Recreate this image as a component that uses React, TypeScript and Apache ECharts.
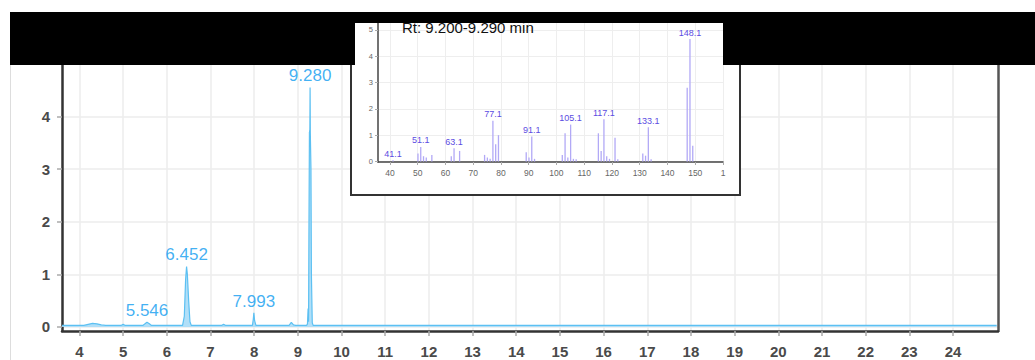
import React, { useEffect, useRef } from "react";
import * as echarts from "echarts";

// Main chromatogram (retention time, min) and intensity
const rtTimes = [
  3.6, 4.1, 4.2, 4.3, 4.4, 4.5, 4.6, 4.95, 5.0, 5.05, 5.45, 5.5, 5.546, 5.6, 5.65,
  6.36, 6.4, 6.43, 6.452, 6.47, 6.5, 6.53, 6.56, 7.25, 7.3, 7.35, 7.96, 7.98, 7.993,
  8.01, 8.04, 8.8, 8.85, 8.9, 8.95, 9.2, 9.22, 9.235, 9.245, 9.255, 9.265, 9.275, 9.28,
  9.285, 9.3, 9.31, 9.33, 9.35, 25.0,
];
const rtIntensity = [
  0.03, 0.03, 0.05, 0.07, 0.06, 0.04, 0.03, 0.03, 0.05, 0.03, 0.03, 0.06, 0.09, 0.06, 0.03,
  0.03, 0.2, 0.9, 1.15, 1.0, 0.5, 0.1, 0.03, 0.03, 0.05, 0.03, 0.03, 0.15, 0.27,
  0.12, 0.03, 0.03, 0.09, 0.04, 0.03, 0.03, 0.06, 0.35, 0.1, 2.0, 3.7, 3.75, 4.55,
  3.7, 3.0, 1.0, 0.08, 0.03, 0.03,
];
const peakTimes = [5.546, 6.452, 7.993, 9.28];
const peakHeights = [0.09, 1.15, 0.27, 4.55];
const mainXTicks = [4, 5, 6, 7, 8, 9, 10, 11, 12, 13, 14, 15, 16, 17, 18, 19, 20, 21, 22, 23, 24];
const mainYTicks = [0, 1, 2, 3, 4];

// Inset mass spectrum
const msMz = [
  41.1, 50.1, 51.1, 52.1, 53.1, 55.1, 62.1, 63.1, 65.1, 74.1, 75.1, 76.1, 77.1, 78.1, 79.1,
  89.1, 90.1, 91.1, 92.1, 102.1, 103.1, 104.1, 105.1, 106.1, 107.1, 115.1, 116.1, 117.1,
  118.1, 119.1, 121.1, 122.1, 131.1, 132.1, 133.1, 134.1, 147.1, 148.1, 149.1,
];
const msIntensity = [
  0.05, 0.3, 0.55, 0.2, 0.15, 0.25, 0.2, 0.5, 0.4, 0.25, 0.15, 0.1, 1.55, 0.65, 1.0,
  0.35, 0.15, 0.95, 0.1, 0.25, 1.07, 0.15, 1.4, 0.1, 0.08, 1.07, 0.4, 1.6,
  0.2, 0.1, 0.9, 0.08, 0.3, 0.22, 1.3, 0.08, 2.8, 4.65, 0.6,
];
const msLabeledMz = [41.1, 51.1, 63.1, 77.1, 91.1, 105.1, 117.1, 133.1, 148.1];
const msXTicks = [40, 50, 60, 70, 80, 90, 100, 110, 120, 130, 140, 150, 160];
const msXTickLabels = ["40", "50", "60", "70", "80", "90", "100", "110", "120", "130", "140", "150", "1"];
const msYTicks = [0, 1, 2, 3, 4, 5];
const insetTitle = "Rt: 9.200-9.290 min";

const FONT = "Liberation Sans, Arial, sans-serif";

export default function App() {
  const ref = useRef<HTMLDivElement>(null);
  useEffect(() => {
    if (!ref.current) return;
    const chart = echarts.init(ref.current, undefined, { renderer: "svg" });
    const trace = rtTimes.map((t, i) => [t, rtIntensity[i]]);
    const peaks = peakTimes.map((t, i) => [t, peakHeights[i]]);
    const spectrum = msMz.map((m, i) => ({
      value: [m, msIntensity[i]],
      label: { show: msLabeledMz.includes(m) },
    }));
    chart.setOption({
      animation: false,
      backgroundColor: "#fff",
      grid: [
        { left: 62, right: 37, top: 48, bottom: 29 },
        { left: 378, right: 312, top: 14, bottom: 198 },
      ],
      xAxis: [
        {
          gridIndex: 0,
          type: "value",
          min: 3.6,
          max: 25.03,
          axisLine: { onZero: false, lineStyle: { color: "#333", width: 2.5 } },
          axisTick: { customValues: mainXTicks, length: 5, lineStyle: { color: "#aaa", width: 1.5 } },
          axisLabel: {
            customValues: mainXTicks,
            fontSize: 15,
            color: "#4a4a4a",
            fontFamily: FONT,
            fontWeight: "bold",
            margin: 13,
          },
          splitLine: { show: true, lineStyle: { color: "#ececec", width: 1.5 } },
        },
        {
          gridIndex: 1,
          type: "value",
          min: 35.7,
          max: 160,
          z: 10,
          axisLine: { onZero: false, lineStyle: { color: "#444", width: 1.5 } },
          axisTick: { customValues: msXTicks, length: 3, lineStyle: { color: "#aaa" } },
          axisLabel: {
            customValues: msXTicks,
            fontSize: 8.5,
            color: "#666",
            fontFamily: FONT,
            margin: 6,
            formatter: (v: number) => msXTickLabels[msXTicks.indexOf(v)] ?? String(v),
          },
          splitLine: { show: true, lineStyle: { color: "#eeeeee", width: 1 } },
        },
      ],
      yAxis: [
        {
          gridIndex: 0,
          type: "value",
          min: -0.076,
          max: 5.3,
          axisLine: { show: true, onZero: false, lineStyle: { color: "#333", width: 2.5 } },
          axisTick: { show: true, customValues: mainYTicks, length: 5, lineStyle: { color: "#aaa", width: 1.5 } },
          axisLabel: {
            customValues: mainYTicks,
            fontSize: 15,
            color: "#4a4a4a",
            fontFamily: FONT,
            fontWeight: "bold",
            margin: 12,
          },
          splitLine: { show: true, lineStyle: { color: "#ececec", width: 1.5 } },
        },
        {
          gridIndex: 0,
          type: "value",
          position: "right",
          min: -0.076,
          max: 5.3,
          axisLine: { show: true, onZero: false, lineStyle: { color: "#555", width: 2.5 } },
          axisTick: { show: false },
          axisLabel: { show: false },
          splitLine: { show: false },
        },
        {
          gridIndex: 1,
          type: "value",
          min: -0.02,
          max: 5.6,
          z: 10,
          axisLine: { show: true, onZero: false, lineStyle: { color: "#444", width: 1.5 } },
          axisTick: { show: true, customValues: msYTicks, length: 3, lineStyle: { color: "#aaa" } },
          axisLabel: {
            customValues: msYTicks,
            fontSize: 7.5,
            color: "#666",
            fontFamily: FONT,
            margin: 5,
          },
          splitLine: { show: true, lineStyle: { color: "#eeeeee", width: 1 } },
        },
      ],
      series: [
        {
          type: "line",
          xAxisIndex: 0,
          yAxisIndex: 0,
          data: trace,
          showSymbol: false,
          lineStyle: { color: "#5cc0f2", width: 1.2 },
          areaStyle: { color: "#a9dcf7", opacity: 0.9 },
          z: 2,
        },
        {
          type: "scatter",
          xAxisIndex: 0,
          yAxisIndex: 0,
          data: peaks,
          symbolSize: 0,
          z: 3,
          label: {
            show: true,
            position: "top",
            distance: 3,
            fontSize: 17,
            color: "#0f9cf0",
            fontFamily: FONT,
            formatter: (p: any) => Number(p.value[0]).toFixed(3),
          },
        },
        {
          type: "bar",
          xAxisIndex: 1,
          yAxisIndex: 2,
          data: spectrum,
          barWidth: 1.3,
          itemStyle: { color: "#b2a9f6" },
          z: 12,
          label: {
            show: false,
            position: "top",
            distance: 2,
            fontSize: 9,
            color: "#5b4be2",
            fontFamily: FONT,
            formatter: (p: any) => Number(p.value[0]).toFixed(1),
          },
        },
      ],
      graphic: {
        elements: [
          {
            type: "line",
            shape: { x1: 10.5, y1: 65, x2: 10.5, y2: 360 },
            style: { stroke: "#dddddd", lineWidth: 1 },
            z: 1,
          },
          {
            type: "rect",
            shape: { x: 351, y: 16, width: 389, height: 179 },
            style: { fill: "#ffffff", stroke: "#333", lineWidth: 2 },
            z: 5,
          },
          {
            type: "text",
            x: 402,
            y: 27,
            style: {
              text: insetTitle,
              fontSize: 15,
              fill: "#111",
              fontFamily: FONT,
              verticalAlign: "middle",
            },
            z: 25,
          },
          {
            type: "polygon",
            shape: {
              points: [
                [10, 12],
                [1035, 12],
                [1035, 65],
                [723, 65],
                [723, 23],
                [355, 23],
                [355, 65],
                [10, 65],
              ],
            },
            style: { fill: "#000" },
            z: 30,
          },
        ],
      },
    });
    return () => chart.dispose();
  }, []);
  return (
    <div
      ref={ref}
      style={{ position: "absolute", left: 0, top: 0, width: 1035, height: 360 }}
    />
  );
}
